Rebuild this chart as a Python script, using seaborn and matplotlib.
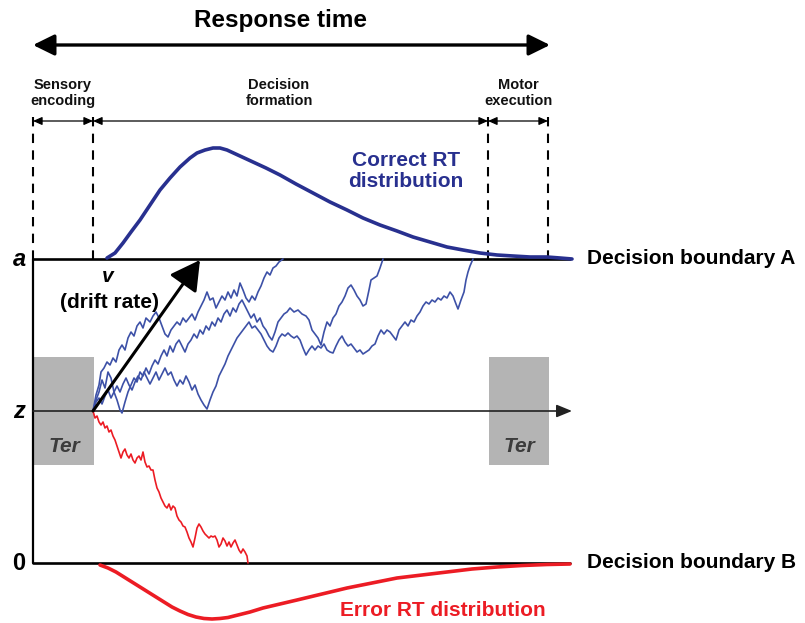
import numpy as np
import pandas as pd
import seaborn as sns
import matplotlib
matplotlib.use("Agg")
import matplotlib.pyplot as plt
from matplotlib.patches import Rectangle

# ------------------------------------------------------------------
# Data (time runs left->right, evidence axis in screen units, inverted)
# ------------------------------------------------------------------
phase_labels = ["Sensory\nencoding", "Decision\nformation", "Motor\nexecution"]
phase_edges = [33, 93, 488, 548]
boundary_labels = ["Decision boundary A", "Decision boundary B"]
level_labels = ["a", "z", "0"]
level_values = [259, 411, 563]          # a, z, 0
time_end = 570

# Correct RT distribution (above boundary A)
correct_t = [107, 115, 123, 131, 140, 150, 160, 170, 180, 190, 197, 205, 213, 220,
             227, 240, 253, 266, 280, 296, 313, 330, 347, 363, 380, 397, 413, 430,
             447, 463, 480, 497, 513, 530, 547, 560, 572]
correct_y = [258, 253, 243, 232, 220, 205, 190, 178, 167, 158, 153, 150, 148, 148,
             150, 156, 162, 168, 175, 184, 193, 202, 210, 218, 225, 231, 237, 242,
             247, 250, 253, 255, 256, 257, 257, 258, 259]

# Error RT distribution (below boundary B)
error_t = [100, 108, 116, 124, 132, 140, 148, 156, 164, 172, 180, 188, 196, 204,
           212, 220, 228, 238, 250, 263, 280, 297, 322, 347, 372, 397, 422, 447,
           472, 497, 522, 547, 570]
error_y = [565, 568, 572, 577, 582, 587, 592, 597, 602, 607, 611, 614.5, 617, 618.5,
           619, 618.5, 617.5, 615, 612, 608, 604, 600, 594, 588, 583, 578, 575, 572,
           569, 567, 565.5, 564.5, 564]

# Evidence accumulation paths
walk1_t = [93, 96, 99, 101, 104, 107, 110, 113, 116, 119, 122, 125, 128, 131, 134,
           137, 140, 143, 146, 150, 153, 156, 159, 162, 165, 168, 171, 174, 177,
           180, 183, 186, 189, 192, 195, 198, 201, 204, 207, 210, 213, 216, 219,
           222, 225, 228, 231, 234, 237, 240, 243, 246, 249, 252, 255, 258, 261,
           264, 267, 270, 273, 276, 279, 283]
walk1_y = [411, 395, 385, 372, 368, 362, 365, 358, 362, 350, 345, 350, 338, 332, 336,
           326, 322, 328, 318, 322, 316, 312, 318, 326, 334, 337, 330, 326, 322,
           325, 318, 322, 318, 314, 320, 312, 306, 300, 292, 300, 298, 308, 302,
           296, 300, 292, 298, 290, 296, 283, 290, 298, 302, 296, 300, 292, 286,
           278, 272, 275, 268, 266, 262, 259]

walk2_t = [93, 96, 99, 102, 105, 108, 111, 114, 117, 120, 122, 125, 128, 131, 134,
           137, 140, 143, 146, 149, 152, 155, 158, 161, 164, 167, 170, 173, 176,
           179, 182, 185, 188, 191, 194, 197, 200, 203, 206, 209, 212, 215, 218,
           221, 224, 227, 230, 233, 236, 239, 242, 245, 248, 251, 254, 257, 260,
           263, 266, 269, 272, 275, 278, 281, 284, 287, 290, 294, 298, 302, 306,
           309, 312, 315, 318, 321, 324, 327, 330, 333, 336, 339, 342, 345, 348,
           351, 354, 357, 360, 363, 366, 369, 371, 374, 377, 380, 383]
walk2_y = [411, 400, 392, 380, 388, 372, 378, 392, 400, 410, 413, 402, 392, 385, 378,
           382, 372, 376, 368, 374, 366, 360, 364, 356, 350, 356, 346, 352, 344,
           340, 346, 352, 344, 340, 334, 338, 330, 334, 326, 330, 322, 326, 318,
           322, 314, 310, 316, 308, 312, 304, 300, 306, 312, 318, 314, 322, 318,
           326, 330, 336, 340, 332, 322, 318, 314, 312, 308, 312, 310, 314, 316,
           320, 330, 334, 338, 345, 332, 322, 326, 318, 314, 306, 302, 296, 288,
           285, 290, 296, 300, 306, 304, 290, 280, 278, 276, 268, 259]

walk3_t = [93, 96, 99, 102, 105, 108, 111, 114, 117, 120, 123, 126, 129, 132, 135,
           138, 141, 144, 147, 150, 153, 156, 159, 162, 165, 168, 171, 174, 177,
           180, 183, 186, 189, 192, 195, 198, 201, 204, 207, 210, 213, 216, 219,
           222, 225, 228, 231, 234, 237, 240, 243, 246, 249, 252, 255, 258, 261,
           264, 267, 270, 273, 276, 279, 282, 285, 288, 291, 294, 297, 300, 303,
           306, 309, 312, 315, 318, 321, 324, 327, 330, 333, 336, 339, 342, 345,
           348, 351, 354, 357, 360, 363, 366, 369, 372, 375, 378, 381, 384, 387,
           390, 393, 396, 399, 402, 405, 408, 411, 414, 417, 420, 423, 426, 429,
           432, 435, 438, 441, 444, 447, 450, 453, 456, 458, 461, 464, 466, 468,
           470, 473]
walk3_y = [411, 402, 398, 404, 396, 390, 398, 392, 386, 392, 384, 378, 385, 390, 382,
           376, 380, 372, 378, 384, 378, 372, 380, 374, 368, 375, 372, 380, 386,
           380, 384, 376, 382, 390, 385, 394, 400, 405, 409, 400, 392, 386, 376,
           370, 364, 356, 350, 344, 338, 334, 330, 326, 322, 328, 326, 330, 334,
           340, 346, 350, 352, 346, 338, 334, 336, 333, 336, 338, 336, 340, 348,
           355, 350, 346, 350, 346, 348, 344, 350, 352, 353, 346, 340, 336, 342,
           346, 344, 348, 352, 350, 354, 352, 350, 346, 344, 336, 330, 334, 330,
           332, 336, 340, 330, 326, 322, 326, 320, 322, 316, 312, 306, 302, 304,
           300, 302, 298, 300, 296, 298, 292, 296, 304, 309, 300, 292, 280, 272,
           266, 259]

error_walk_t = [93, 95, 97, 99, 101, 103, 105, 107, 109, 111, 113, 115, 117, 119, 121,
                123, 125, 127, 129, 131, 133, 135, 137, 139, 141, 143, 145, 147, 149,
                151, 153, 155, 157, 159, 161, 163, 165, 167, 169, 171, 173, 175, 177,
                179, 181, 183, 185, 187, 189, 191, 193, 195, 197, 199, 201, 203, 205,
                207, 209, 211, 213, 215, 217, 219, 221, 223, 225, 227, 229, 231, 233,
                235, 237, 239, 241, 243, 245, 247, 248]
error_walk_y = [411, 418, 416, 422, 425, 422, 428, 426, 432, 430, 436, 440, 446, 452, 458,
                452, 449, 455, 458, 454, 460, 463, 458, 456, 460, 452, 462, 467, 466,
                470, 470, 480, 488, 492, 498, 502, 506, 508, 504, 510, 506, 508, 516,
                520, 522, 526, 527, 532, 538, 542, 547, 538, 528, 524, 527, 531, 534,
                536, 538, 536, 537, 536, 540, 547, 544, 538, 541, 546, 542, 547, 543,
                540, 545, 550, 553, 549, 552, 556, 563]

ter_boxes_t = [phase_edges[0], phase_edges[2]]   # non-decision time boxes
ter_box_range = (357, 465)

# ------------------------------------------------------------------
sns.set_style("white")
plt.rcParams["font.family"] = ["Liberation Sans", "DejaVu Sans"]

W, H = 805, 623
fig = plt.figure(figsize=(W / 100, H / 100), dpi=100)
ax = fig.add_axes([0, 0, 1, 1])
ax.set_xlim(0, W)
ax.set_ylim(H, 0)
ax.axis("off")

BLUE_WALK = "#3D51A7"
BLUE_DARK = "#28308F"
RED = "#EC1C24"
GREY = "#B4B4B4"

# Ter boxes
for x0 in ter_boxes_t:
    ax.add_patch(Rectangle((x0 + 1, ter_box_range[0]), phase_edges[1] - phase_edges[0],
                           ter_box_range[1] - ter_box_range[0],
                           facecolor=GREY, edgecolor="none", zorder=1))
    ax.text(x0 + 31, 446, "Ter", fontsize=15, fontweight="bold", fontstyle="italic",
            color="#3C3C3C", ha="center", va="center", zorder=2)

# Boundaries and axes
ax.plot([phase_edges[0], time_end], [level_values[0]] * 2, color="black", lw=1.9, zorder=3)
ax.plot([phase_edges[0], time_end], [level_values[2]] * 2, color="black", lw=1.9, zorder=3)
ax.plot([phase_edges[0], phase_edges[0]], [level_values[0], level_values[2]],
        color="black", lw=1.6, zorder=3)
ax.annotate("", xy=(time_end + 2, level_values[1]), xytext=(phase_edges[0], level_values[1]),
            arrowprops=dict(arrowstyle="-|>,head_length=0.85,head_width=0.35",
                            mutation_scale=11, lw=1.2, color="#222222",
                            shrinkA=0, shrinkB=0), zorder=3)

# Level labels
for lab, yv in zip(level_labels, level_values):
    ax.text(19, yv + 1, lab, fontsize=17, fontweight="bold",
            fontstyle=("normal" if lab == "0" else "italic"),
            ha="center", va="center", color="black")

ax.text(587, level_values[0] - 1, boundary_labels[0], fontsize=15, fontweight="bold",
        ha="left", va="center", color="black")
ax.text(587, level_values[2] - 1, boundary_labels[1], fontsize=15, fontweight="bold",
        ha="left", va="center", color="black")

# Dashed phase lines
for xe in phase_edges:
    ax.plot([xe, xe], [117, level_values[0]], color="black", lw=1.5,
            linestyle=(0, (4.5, 3.5)), zorder=2)

# Small phase arrows and labels
for i, lab in enumerate(phase_labels):
    x0, x1 = phase_edges[i], phase_edges[i + 1]
    ax.annotate("", xy=(x1, 121), xytext=(x0, 121),
                arrowprops=dict(arrowstyle="<|-|>,head_length=0.9,head_width=0.4",
                                mutation_scale=6, lw=0.9, color="black",
                                shrinkA=0, shrinkB=0))
    ax.text((x0 + x1) / 2 if i != 1 else 279, 93, lab, fontsize=10.5, fontweight="bold",
            ha="center", va="center", linespacing=1.15, color="#111111")

# Response time
ax.annotate("", xy=(550, 45), xytext=(33, 45),
            arrowprops=dict(arrowstyle="<|-|>,head_length=0.65,head_width=0.32",
                            mutation_scale=20, lw=2.4, color="black",
                            shrinkA=0, shrinkB=0))
ax.text(280, 21, "Response time", fontsize=17.5, fontweight="bold",
        ha="center", va="center", color="black")

# Distributions
sns.lineplot(x=correct_t, y=correct_y, sort=False, estimator=None, color=BLUE_DARK,
             lw=2.6, ax=ax, zorder=4)
sns.lineplot(x=error_t, y=error_y, sort=False, estimator=None, color=RED,
             lw=2.6, ax=ax, zorder=4)
ax.text(406, 171, "Correct RT\ndistribution", fontsize=15, fontweight="bold",
        ha="center", va="center", color=BLUE_DARK, linespacing=1.1)
ax.text(443, 610, "Error RT distribution", fontsize=15, fontweight="bold",
        ha="center", va="center", color=RED)

# Walks
for wt, wy in [(walk3_t, walk3_y), (walk2_t, walk2_y), (walk1_t, walk1_y)]:
    sns.lineplot(x=wt, y=wy, sort=False, estimator=None, color=BLUE_WALK,
                 lw=1.2, ax=ax, zorder=5)
sns.lineplot(x=error_walk_t, y=error_walk_y, sort=False, estimator=None, color=RED,
             lw=1.2, ax=ax, zorder=5)

# Drift arrow
ax.annotate("", xy=(200, level_values[0] + 1), xytext=(phase_edges[1], level_values[1]),
            arrowprops=dict(arrowstyle="-|>,head_length=0.9,head_width=0.5",
                            mutation_scale=20, lw=2.2, color="black",
                            shrinkA=0, shrinkB=0), zorder=6)
ax.text(108, 276, "v", fontsize=15, fontweight="bold", fontstyle="italic",
        ha="center", va="center", color="black")
ax.text(109, 302, "(drift rate)", fontsize=15, fontweight="bold",
        ha="center", va="center", color="black")

ax.set_xlim(0, W)
ax.set_ylim(H, 0)
ax.axis("off")
fig.savefig("out.png", dpi=100, facecolor="white")
